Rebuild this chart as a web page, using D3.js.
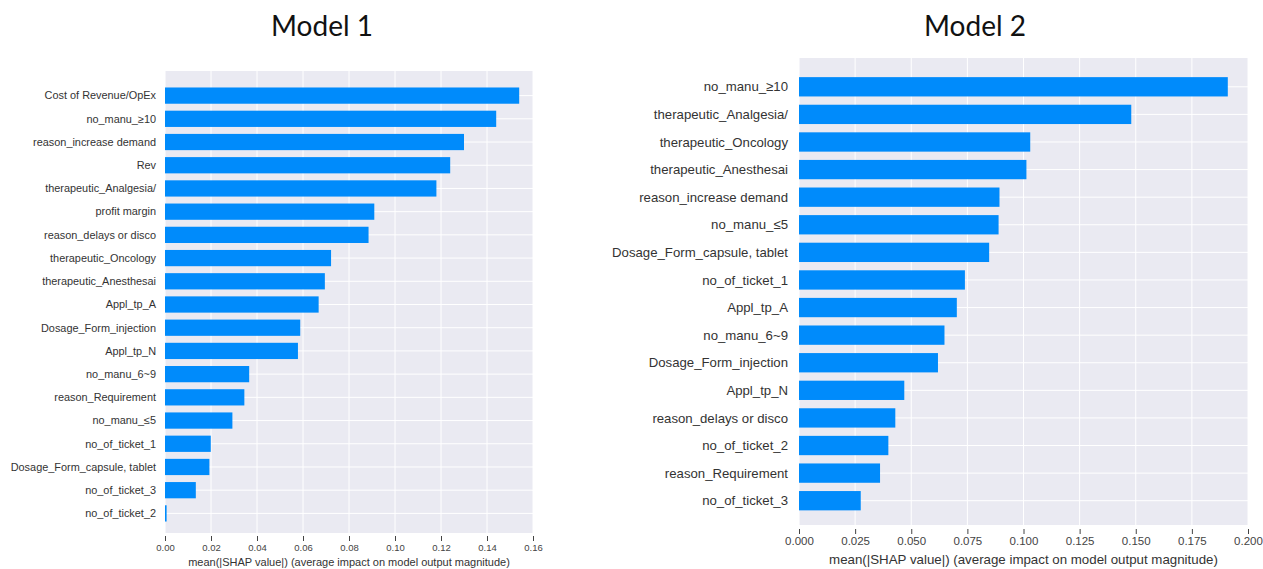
<!DOCTYPE html>
<html>
<head>
<meta charset="utf-8">
<title>SHAP feature importance - Model 1 / Model 2</title>
<script src="https://d3js.org/d3.v7.min.js"></script>
<style>
  body { margin: 0; background: #fff; }
  .title { font-family: Lato, "Open Sans", sans-serif; fill: #111; }
  .axis text { font-family: "Liberation Sans", Arial, sans-serif; fill: #444; }
  .ylab { font-family: "Liberation Sans", Arial, sans-serif; fill: #333; }
  .xlab { font-family: "Liberation Sans", Arial, sans-serif; fill: #333; }
</style>
</head>
<body>
<svg id="chart" width="1263" height="569"></svg>
<script>
// Model 1 features (top to bottom) and mean |SHAP| values
const model1Features = ["Cost of Revenue/OpEx", "no_manu_\u226510", "reason_increase demand", "Rev",
  "therapeutic_Analgesia/", "profit margin", "reason_delays or disco", "therapeutic_Oncology",
  "therapeutic_Anesthesai", "Appl_tp_A", "Dosage_Form_injection", "Appl_tp_N", "no_manu_6~9",
  "reason_Requirement", "no_manu_\u22645", "no_of_ticket_1", "Dosage_Form_capsule, tablet",
  "no_of_ticket_3", "no_of_ticket_2"];
const model1Values = [0.154, 0.144, 0.130, 0.124, 0.118, 0.091, 0.0885, 0.0722, 0.0695, 0.0668,
  0.0588, 0.0578, 0.0366, 0.0345, 0.0293, 0.0199, 0.0193, 0.0134, 0.0007];
const model1Ticks = [0, 0.02, 0.04, 0.06, 0.08, 0.10, 0.12, 0.14, 0.16];

// Model 2
const model2Features = ["no_manu_\u226510", "therapeutic_Analgesia/", "therapeutic_Oncology",
  "therapeutic_Anesthesai", "reason_increase demand", "no_manu_\u22645", "Dosage_Form_capsule, tablet",
  "no_of_ticket_1", "Appl_tp_A", "no_manu_6~9", "Dosage_Form_injection", "Appl_tp_N",
  "reason_delays or disco", "no_of_ticket_2", "reason_Requirement", "no_of_ticket_3"];
const model2Values = [0.191, 0.148, 0.103, 0.1013, 0.0893, 0.0889, 0.0847, 0.0739, 0.0703,
  0.0648, 0.0619, 0.0469, 0.0429, 0.0398, 0.0361, 0.0275];
const model2Ticks = [0, 0.025, 0.05, 0.075, 0.10, 0.125, 0.15, 0.175, 0.20];

const xTitle = "mean(|SHAP value|) (average impact on model output magnitude)";
const svg = d3.select("#chart");

function panel(cfg) {
  const g = svg.append("g");
  const x = d3.scaleLinear().domain(cfg.domain).range([cfg.left, cfg.right]);
  const y = d3.scaleBand().domain(cfg.features).range(cfg.bandRange)
    .paddingInner(0.3).paddingOuter(0.15);

  // background
  g.append("rect").attr("x", cfg.left).attr("y", cfg.top)
    .attr("width", cfg.right - cfg.left).attr("height", cfg.bottom - cfg.top)
    .attr("fill", "#eaeaf2");

  // grid
  g.selectAll(".vg").data(cfg.ticks).enter().append("line")
    .attr("x1", d => x(d)).attr("x2", d => x(d))
    .attr("y1", cfg.top).attr("y2", cfg.bottom)
    .attr("stroke", "#fff").attr("stroke-width", 1);
  g.selectAll(".hg").data(cfg.features).enter().append("line")
    .attr("x1", cfg.left).attr("x2", cfg.right)
    .attr("y1", d => y(d) + y.bandwidth() / 2).attr("y2", d => y(d) + y.bandwidth() / 2)
    .attr("stroke", "#fff").attr("stroke-width", 1);

  // bars
  g.selectAll(".bar").data(cfg.features).enter().append("rect")
    .attr("x", x(0)).attr("y", d => y(d))
    .attr("width", (d, i) => Math.max(1, x(cfg.values[i]) - x(0)))
    .attr("height", y.bandwidth())
    .attr("fill", "#008bfb");

  // feature labels
  g.selectAll(".ylab").data(cfg.features).enter().append("text")
    .attr("class", "ylab")
    .attr("x", cfg.left - cfg.labelGap)
    .attr("y", d => y(d) + y.bandwidth() / 2)
    .attr("dy", "0.35em")
    .attr("text-anchor", "end")
    .style("font-size", cfg.labelSize + "px")
    .text(d => d);

  // x axis
  const axis = g.append("g").attr("class", "axis")
    .attr("transform", `translate(0,${cfg.tickY})`)
    .call(d3.axisBottom(x).tickValues(cfg.ticks).tickFormat(d3.format(cfg.fmt))
      .tickSize(cfg.tickLen).tickPadding(3));
  axis.select(".domain").remove();
  axis.selectAll(".tick line").attr("stroke", "#444");
  axis.selectAll("text").style("font-size", cfg.tickSize + "px");

  g.append("text").attr("class", "xlab")
    .attr("x", (cfg.left + cfg.right) / 2).attr("y", cfg.xTitleY)
    .attr("text-anchor", "middle")
    .style("font-size", cfg.xTitleSize + "px")
    .text(xTitle);

  g.append("text").attr("class", "title")
    .attr("x", cfg.titleX).attr("y", 36)
    .attr("text-anchor", "middle")
    .style("font-size", "28px")
    .text(cfg.title);
}

panel({
  title: "Model 1", titleX: 322,
  features: model1Features, values: model1Values, ticks: model1Ticks,
  domain: [0, 0.16], left: 165, right: 533, top: 71, bottom: 533,
  bandRange: [84, 525], labelGap: 9, labelSize: 10.9,
  tickY: 536, tickLen: 5, tickSize: 9.5, fmt: ".2f",
  xTitleY: 566, xTitleSize: 11
});

panel({
  title: "Model 2", titleX: 975,
  features: model2Features, values: model2Values, ticks: model2Ticks,
  domain: [0, 0.2], left: 799, right: 1248, top: 58, bottom: 525,
  bandRange: [73, 514.5], labelGap: 11, labelSize: 13.2,
  tickY: 529, tickLen: 5, tickSize: 11.5, fmt: ".3f",
  xTitleY: 564, xTitleSize: 13.3
});
</script>
</body>
</html>
